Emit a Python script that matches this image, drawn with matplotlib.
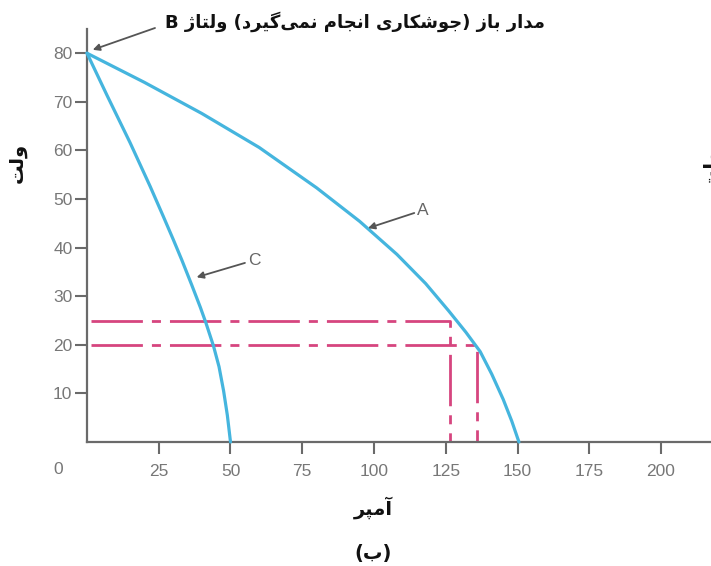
import matplotlib
matplotlib.use("Agg")
import matplotlib.pyplot as plt

# ── Data ───────────────────────────────────────────────────────────────────────
curve_a_x = [0, 20, 40, 60, 80, 95, 108, 118, 126, 132, 137, 141, 145, 148, 150.5]
curve_a_y = [80, 74.0, 67.6, 60.6, 52.3, 45.4, 38.6, 32.6, 27.0, 22.6, 18.6, 14.0, 8.8, 4.3, 0]

curve_c_x = [0, 7, 15, 22, 26.6, 30.1, 33, 36.5, 39.5, 41.5, 44.1, 46, 47.6, 48.9, 50]
curve_c_y = [80, 71.3, 61.6, 52.6, 46.4, 41.6, 37.5, 32.3, 27.7, 24.4, 19.7, 15.5, 10.5, 5.5, 0]

guide_volts = [25, 20]
guide_amps = [126.5, 136]

x_ticks = [25, 50, 75, 100, 125, 150, 175, 200]
y_ticks = [10, 20, 30, 40, 50, 60, 70, 80]

TITLE = "مدار باز (جوشکاری انجام نمی‌گیرد) ولتاژ B"
Y_LABEL = "ولت"
X_LABEL = "آمپر"
CAPTION = "(ب)"

BLUE = "#45b5de"
PINK = "#d6457f"
GREY = "#6a6a6a"
TICK_GREY = "#777777"

# ── Minimal Arabic/Persian shaping (matplotlib has no text shaping) ────────────
# letter: (isolated, final, initial, medial); right-joining letters have 2 forms
FORMS = {
    "ا": ("\uFE8D", "\uFE8E"), "آ": ("\uFE81", "\uFE82"),
    "د": ("\uFEA9", "\uFEAA"), "ر": ("\uFEAD", "\uFEAE"),
    "ز": ("\uFEAF", "\uFEB0"), "ژ": ("\uFB8A", "\uFB8B"),
    "و": ("\uFEED", "\uFEEE"),
    "ب": ("\uFE8F", "\uFE90", "\uFE91", "\uFE92"),
    "پ": ("\uFB56", "\uFB57", "\uFB58", "\uFB59"),
    "ت": ("\uFE95", "\uFE96", "\uFE97", "\uFE98"),
    "ج": ("\uFE9D", "\uFE9E", "\uFE9F", "\uFEA0"),
    "ش": ("\uFEB5", "\uFEB6", "\uFEB7", "\uFEB8"),
    "ک": ("\uFB8E", "\uFB8F", "\uFB90", "\uFB91"),
    "گ": ("\uFB92", "\uFB93", "\uFB94", "\uFB95"),
    "ل": ("\uFEDD", "\uFEDE", "\uFEDF", "\uFEE0"),
    "م": ("\uFEE1", "\uFEE2", "\uFEE3", "\uFEE4"),
    "ن": ("\uFEE5", "\uFEE6", "\uFEE7", "\uFEE8"),
    "ی": ("\uFBFC", "\uFBFD", "\uFBFE", "\uFBFF"),
}
MIRROR = {"(": ")", ")": "("}


def shape_rtl(text):
    out = []
    for i, ch in enumerate(text):
        if ch not in FORMS:
            if ch != "\u200c":
                out.append(MIRROR.get(ch, ch))
            continue
        prev = text[i - 1] if i > 0 else ""
        nxt = text[i + 1] if i + 1 < len(text) else ""
        joins_prev = prev in FORMS and len(FORMS[prev]) == 4
        joins_next = len(FORMS[ch]) == 4 and nxt in FORMS
        forms = FORMS[ch]
        if joins_prev and joins_next:
            out.append(forms[3])
        elif joins_prev:
            out.append(forms[1])
        elif joins_next:
            out.append(forms[2])
        else:
            out.append(forms[0])
    return "".join(reversed(out))


# ── Plot ───────────────────────────────────────────────────────────────────────
plt.rcParams["lines.scale_dashes"] = False
plt.rcParams["font.family"] = ["Liberation Sans", "DejaVu Sans"]

fig = plt.figure(figsize=(7.11, 5.66), dpi=100)
W, H = 711, 566
ax = fig.add_axes([87 / W, (H - 442) / H, (W - 87) / W, (442 - 29) / H])
ax.set_xlim(0, 624 / 2.87)
ax.set_ylim(0, 413 / 4.86)

ax.plot(curve_a_x, curve_a_y, color=BLUE, lw=2.3, clip_on=False, zorder=3,
        solid_capstyle="round", solid_joinstyle="round")
ax.plot(curve_c_x, curve_c_y, color=BLUE, lw=2.3, clip_on=False, zorder=3,
        solid_capstyle="round", solid_joinstyle="round")

# dash-dot guides for the two working points on curve A
for volt, amp in zip(guide_volts, guide_amps):
    ax.plot([1.5, amp, amp], [volt, volt, 0], color=PINK, lw=2.0,
            dashes=(37, 6.5, 6.5, 6.5), zorder=2)

for side in ("top", "right"):
    ax.spines[side].set_visible(False)
for side in ("left", "bottom"):
    ax.spines[side].set_color(GREY)
    ax.spines[side].set_linewidth(1.6)

ax.set_xticks(x_ticks)
ax.set_yticks(y_ticks)
ax.tick_params(axis="both", direction="out", length=8.5, width=1.5, color=GREY,
               labelcolor=TICK_GREY, labelsize=12.5)
ax.tick_params(axis="x", pad=7)
ax.tick_params(axis="y", pad=2)

# stray "0" label sits left of the origin
ax.annotate("0", xy=(0, 0), xytext=(-29, -28), textcoords="offset pixels",
            ha="center", va="center", fontsize=12.5, color=TICK_GREY)

# curve labels with arrows
arrow = dict(arrowstyle="-|>", color="#555555", lw=1.3, mutation_scale=10,
             shrinkA=0, shrinkB=0)
ax.annotate("A", xy=(97.9, 44.0), xytext=(115, 47.7), ha="left", va="center",
            fontsize=12.5, color="#666666", arrowprops=arrow)
ax.annotate("C", xy=(38.2, 33.9), xytext=(56, 37.4), ha="left", va="center",
            fontsize=12.5, color="#666666", arrowprops=arrow)
ax.annotate("", xy=(2.0, 80.7), xytext=(155, H - 28), textcoords="figure pixels",
            arrowprops=arrow, annotation_clip=False)

# Persian texts
fa = dict(family=["DejaVu Sans"], fontweight="bold", color="#111111")
fig.text(355 / W, 1 - 22 / H, shape_rtl(TITLE), ha="center", va="center",
         fontsize=13, **fa)
fig.text(17 / W, 1 - 163 / H, shape_rtl(Y_LABEL), ha="center", va="center",
         rotation=90, fontsize=14, **fa)
# fragment of the neighbouring figure's axis label, cut by the right edge
fig.text(1.0, 1 - 168 / H, shape_rtl(Y_LABEL), ha="center", va="center",
         rotation=90, fontsize=14, **fa)
fig.text(373 / W, 1 - 508 / H, shape_rtl(X_LABEL), ha="center", va="center",
         fontsize=14, **fa)
fig.text(373 / W, 1 - 553 / H, shape_rtl(CAPTION), ha="center", va="center",
         fontsize=14, **fa)

fig.savefig("out.png", dpi=100)
